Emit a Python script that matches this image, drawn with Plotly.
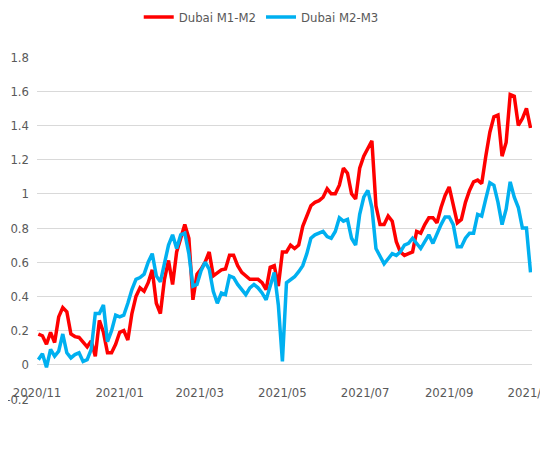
import plotly.graph_objects as go

# every third day, Nov 2020 - Oct 2021
dates = [
    '2020-11-02', '2020-11-05', '2020-11-08', '2020-11-11', '2020-11-14', '2020-11-17', '2020-11-20', '2020-11-23',
    '2020-11-26', '2020-11-29', '2020-12-02', '2020-12-05', '2020-12-08', '2020-12-11', '2020-12-14', '2020-12-17',
    '2020-12-20', '2020-12-23', '2020-12-26', '2020-12-29', '2021-01-01', '2021-01-04', '2021-01-07', '2021-01-10',
    '2021-01-13', '2021-01-16', '2021-01-19', '2021-01-22', '2021-01-25', '2021-01-28', '2021-01-31', '2021-02-03',
    '2021-02-06', '2021-02-09', '2021-02-12', '2021-02-15', '2021-02-18', '2021-02-21', '2021-02-24', '2021-02-27',
    '2021-03-02', '2021-03-05', '2021-03-08', '2021-03-11', '2021-03-14', '2021-03-17', '2021-03-20', '2021-03-23',
    '2021-03-26', '2021-03-29', '2021-04-01', '2021-04-04', '2021-04-07', '2021-04-10', '2021-04-13', '2021-04-16',
    '2021-04-19', '2021-04-22', '2021-04-25', '2021-04-28', '2021-05-01', '2021-05-04', '2021-05-07', '2021-05-10',
    '2021-05-13', '2021-05-16', '2021-05-19', '2021-05-22', '2021-05-25', '2021-05-28', '2021-05-31', '2021-06-03',
    '2021-06-06', '2021-06-09', '2021-06-12', '2021-06-15', '2021-06-18', '2021-06-21', '2021-06-24', '2021-06-27',
    '2021-06-30', '2021-07-03', '2021-07-06', '2021-07-09', '2021-07-12', '2021-07-15', '2021-07-18', '2021-07-21',
    '2021-07-24', '2021-07-27', '2021-07-30', '2021-08-02', '2021-08-05', '2021-08-08', '2021-08-11', '2021-08-14',
    '2021-08-17', '2021-08-20', '2021-08-23', '2021-08-26', '2021-08-29', '2021-09-01', '2021-09-04', '2021-09-07',
    '2021-09-10', '2021-09-13', '2021-09-16', '2021-09-19', '2021-09-22', '2021-09-25', '2021-09-28', '2021-10-01',
    '2021-10-04', '2021-10-07', '2021-10-10', '2021-10-13', '2021-10-16', '2021-10-19', '2021-10-22', '2021-10-25',
    '2021-10-28', '2021-10-31',
]

m1_m2 = [
    0.18, 0.17, 0.12, 0.19, 0.13, 0.28, 0.335, 0.31, 0.18, 0.165, 0.16, 0.135, 0.105, 0.14, 0.05, 0.26,
    0.19, 0.07, 0.07, 0.12, 0.19, 0.20, 0.145, 0.30, 0.40, 0.45, 0.43, 0.48, 0.555, 0.36, 0.30, 0.50,
    0.61, 0.47, 0.66, 0.74, 0.82, 0.74, 0.38, 0.53, 0.56, 0.60, 0.66, 0.52, 0.54, 0.555, 0.56, 0.64,
    0.64, 0.58, 0.54, 0.52, 0.50, 0.50, 0.50, 0.48, 0.44, 0.57, 0.58, 0.46, 0.66, 0.66, 0.70, 0.68,
    0.70, 0.81, 0.87, 0.93, 0.95, 0.96, 0.98, 1.03, 1.00, 1.00, 1.05, 1.15, 1.12, 1.00, 0.97, 1.15,
    1.22, 1.27, 1.31, 0.93, 0.82, 0.82, 0.87, 0.84, 0.72, 0.66, 0.64, 0.65, 0.66, 0.78, 0.77, 0.82,
    0.86, 0.86, 0.83, 0.92, 0.99, 1.04, 0.93, 0.83, 0.85, 0.95, 1.02, 1.07, 1.08, 1.06, 1.22, 1.36,
    1.45, 1.46, 1.22, 1.30, 1.58, 1.57, 1.40, 1.44, 1.50, 1.385,
]

m2_m3 = [
    0.03, 0.065, -0.015, 0.09, 0.05, 0.08, 0.18, 0.07, 0.04, 0.06, 0.07, 0.02, 0.03, 0.09, 0.30, 0.30,
    0.35, 0.135, 0.20, 0.29, 0.28, 0.29, 0.36, 0.44, 0.50, 0.51, 0.53, 0.60, 0.65, 0.52, 0.485, 0.60,
    0.70, 0.76, 0.68, 0.76, 0.77, 0.65, 0.46, 0.47, 0.55, 0.60, 0.56, 0.43, 0.36, 0.42, 0.41, 0.52,
    0.51, 0.47, 0.44, 0.41, 0.45, 0.47, 0.45, 0.42, 0.38, 0.47, 0.54, 0.35, 0.02, 0.48, 0.50, 0.515,
    0.545, 0.58, 0.65, 0.74, 0.76, 0.77, 0.78, 0.75, 0.74, 0.78, 0.86, 0.84, 0.85, 0.74, 0.70, 0.88,
    0.98, 1.02, 0.92, 0.68, 0.63, 0.59, 0.62, 0.65, 0.64, 0.66, 0.70, 0.71, 0.74, 0.71, 0.68, 0.72,
    0.76, 0.71, 0.77, 0.82, 0.865, 0.865, 0.82, 0.69, 0.69, 0.74, 0.77, 0.77, 0.88, 0.87, 0.97, 1.065,
    1.05, 0.95, 0.82, 0.91, 1.07, 0.98, 0.92, 0.80, 0.80, 0.54,
]

ytick_vals = [-0.2, 0, 0.2, 0.4, 0.6, 0.8, 1, 1.2, 1.4, 1.6, 1.8]
ytick_text = ['-0.2', '0', '0.2', '0.4', '0.6', '0.8', '1', '1.2', '1.4', '1.6', '1.8']
xtick_vals = ['2020-11-01', '2021-01-01', '2021-03-01', '2021-05-01', '2021-07-01', '2021-09-01', '2021-11-01']
xtick_text = ['2020/11', '2021/01', '2021/03', '2021/05', '2021/07', '2021/09', '2021/11']

font_family = 'DejaVu Sans Condensed, Liberation Sans, sans-serif'
grey = '#595959'

fig = go.Figure()
fig.add_trace(go.Scatter(x=dates, y=m1_m2, mode='lines', name='Dubai M1-M2',
                         line=dict(color='#FF0000', width=3.5)))
fig.add_trace(go.Scatter(x=dates, y=m2_m3, mode='lines', name='Dubai M2-M3',
                         line=dict(color='#00B0F0', width=3.5)))

# page body adds an 8px offset, margins compensate for it
fig.update_layout(
    width=548, height=450,
    margin=dict(l=29, r=24, t=49, b=59, autoexpand=False),
    paper_bgcolor='white', plot_bgcolor='white',
    font=dict(family=font_family, size=13, color=grey),
    showlegend=True,
    legend=dict(orientation='h', x=0.453, xanchor='center', y=1.117, yanchor='middle',
                font=dict(size=13, color=grey), itemwidth=30, tracegroupgap=0),
    xaxis=dict(type='date', range=['2020-11-01', '2021-11-01 02:00'],
               tickvals=xtick_vals, ticktext=xtick_text, ticklabeloverflow='allow',
               showgrid=False, showline=False, zeroline=False, automargin=False,
               anchor='free', position=0.1, ticks='', ticklabelstandoff=18),
    yaxis=dict(range=[-0.2, 1.8], tickvals=ytick_vals, ticktext=ytick_text,
               showgrid=True, gridcolor='#D9D9D9', gridwidth=1, automargin=False,
               zeroline=False, showline=False, ticks='', ticklabelstandoff=7),
)

fig.write_html('out.html')
